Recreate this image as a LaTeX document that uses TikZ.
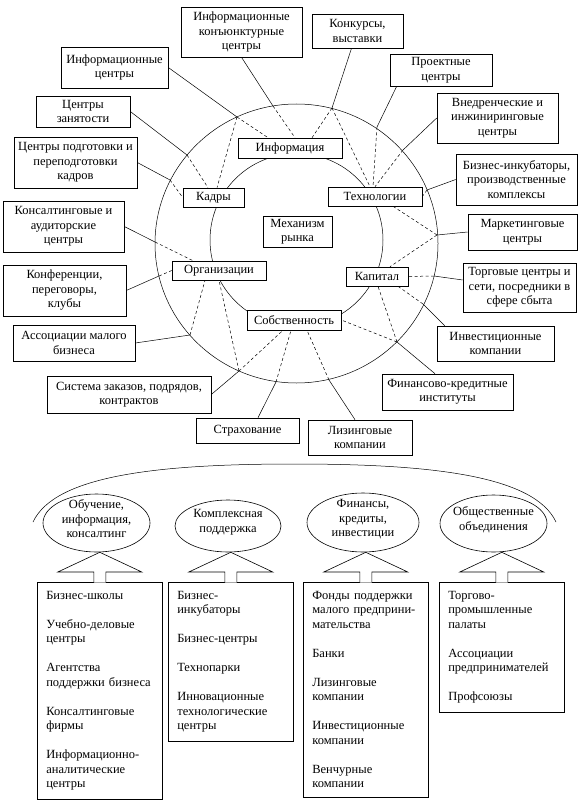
\documentclass[tikz,border=0pt]{standalone}
\usepackage{fontspec}
\setmainfont{Liberation Serif}
\usetikzlibrary{shapes.geometric}
\usetikzlibrary{calc}
\tikzset{box/.style={draw, fill=white, align=center, inner sep=0pt, line width=0.6pt}}
\tikzset{listbox/.style={draw, fill=white, align=left, anchor=north west, inner xsep=9pt, inner ysep=9pt, text width=107pt, line width=0.6pt}}
\tikzset{oval/.style={draw, ellipse, inner sep=0pt, line width=0.6pt}}
\tikzset{dashlink/.style={dash pattern=on 3pt off 2.5pt}}

\begin{document}
\begin{tikzpicture}[x=1pt, y=-1pt, line width=0.5pt, every node/.style={font=\fontsize{12.5}{14.5}\selectfont}]
            \useasboundingbox (0,0) rectangle (584,805);
            \draw (296.5,243.5) ellipse [x radius=141.5, y radius=139.5];
            \draw (296.5,240) circle [radius=86.5];
            \node [box, minimum width=104pt, minimum height=20pt] (info) at (290,148) {Информация};
            \node [box, minimum width=61pt, minimum height=19pt] (kadry) at (213.5,197.5) {Кадры};
            \node [box, minimum width=94pt, minimum height=19pt] (tech) at (375,196.5) {Технологии};
            \node [box, minimum width=69pt, minimum height=31pt] (mech) at (297.5,231.5) {Механизм\\рынка};
            \node [box, minimum width=94pt, minimum height=19pt] (org) at (219,270.5) {Организации};
            \node [box, minimum width=62pt, minimum height=19pt] (kap) at (377,276.5) {Капитал};
            \node [box, minimum width=94pt, minimum height=20pt] (sobst) at (294,320) {Собственность};
            \node [box, minimum width=107pt, minimum height=41pt] (infcent) at (114.5,67.5) {Информационные\\центры};
            \node [box, minimum width=121pt, minimum height=50pt] (infkon) at (241.5,32) {Информационные\\конъюнктурные\\центры};
            \node [box, minimum width=91pt, minimum height=34pt] (konk) at (357.5,31) {Конкурсы,\\выставки};
            \node [box, minimum width=102pt, minimum height=32pt] (proj) at (441,70) {Проектные\\центры};
            \node [box, minimum width=121pt, minimum height=50pt] (vnedr) at (497.5,118) {Внедренческие и\\инжиниринговые\\центры};
            \node [box, minimum width=121pt, minimum height=51pt] (binc) at (516.5,179.5) {Бизнес-инкубаторы,\\производственные\\комплексы};
            \node [box, minimum width=109pt, minimum height=36pt] (markc) at (522.5,232) {Маркетинговые\\центры};
            \node [box, minimum width=113pt, minimum height=49pt] (torg) at (519.5,287.5) {Торговые центры и\\сети, посредники в\\сфере сбыта};
            \node [box, minimum width=117pt, minimum height=35pt] (invest) at (495.5,343.5) {Инвестиционные\\компании};
            \node [box, minimum width=131pt, minimum height=36pt] (fin) at (447.5,392) {Финансово-кредитные\\институты};
            \node [box, minimum width=104pt, minimum height=35pt] (lizing) at (360,437.5) {Лизинговые\\компании};
            \node [box, minimum width=103pt, minimum height=25pt] (strah) at (247.5,430.5) {Страхование};
            \node [box, minimum width=164pt, minimum height=37pt] (sist) at (129,394.5) {Система заказов, подрядов,\\контрактов};
            \node [box, minimum width=122pt, minimum height=36pt] (assoc) at (74,343) {Ассоциации малого\\бизнеса};
            \node [box, minimum width=123pt, minimum height=51pt] (konf) at (64.5,290.5) {Конференции,\\переговоры,\\клубы};
            \node [box, minimum width=121pt, minimum height=51pt] (konsalt) at (63.5,226.5) {Консалтинговые и\\аудиторские\\центры};
            \node [box, minimum width=123pt, minimum height=51pt] (cpodg) at (75.5,162.5) {Центры подготовки и\\переподготовки\\кадров};
            \node [box, minimum width=94pt, minimum height=31pt] (czan) at (83,111.5) {Центры\\занятости};
            \coordinate (p1) at (237,117);
            \coordinate (p2) at (273,106);
            \coordinate (p3) at (332,108);
            \coordinate (p4) at (377,127);
            \coordinate (p5) at (403,150);
            \coordinate (p6) at (427,190);
            \coordinate (p7) at (437,235);
            \coordinate (p8) at (434,276);
            \coordinate (p9) at (423,304);
            \coordinate (p10) at (397,342);
            \coordinate (p11) at (329,380);
            \coordinate (p12) at (276,382);
            \coordinate (p13) at (239,371);
            \coordinate (p14) at (190,335);
            \coordinate (p15) at (159,276);
            \coordinate (p16) at (155,242);
            \coordinate (p17) at (170,180);
            \coordinate (p18) at (187,155);
            \draw (infcent.east) -- (p1);
            \draw [dashlink] (p1) -- ([xshift=-22pt]info.north);
            \draw [dashlink] (p1) -- ([xshift=3.5pt]kadry.north);
            \draw (infkon.south) -- (p2);
            \draw [dashlink] (p2) -- ([xshift=5pt]info.north);
            \draw ([xshift=-6pt]konk.south) -- (p3);
            \draw [dashlink] (p3) -- ([xshift=22pt]info.north);
            \draw [dashlink] (p3) -- ([xshift=-5pt]tech.north);
            \draw ([xshift=7pt]proj.south west) -- (p4);
            \draw [dashlink] (p4) -- ([xshift=-2pt]tech.north);
            \draw (vnedr.west) -- (p5);
            \draw [dashlink] (p5) -- (tech.north);
            \draw (binc.west) -- (p6);
            \draw [dashlink] (p6) -- (tech.east);
            \draw (markc.west) -- (p7);
            \draw [dashlink] (p7) -- ([xshift=18pt]tech.south);
            \draw [dashlink] (p7) -- ([xshift=13pt]kap.north);
            \draw ([yshift=7.5pt]torg.west) -- (p8);
            \draw [dashlink] (p8) -- (kap.east);
            \draw ([xshift=8pt]invest.north west) -- (p9);
            \draw [dashlink] (p9) -- ([xshift=21pt]kap.south);
            \draw ([xshift=-12.5pt]fin.north) -- (p10);
            \draw [dashlink] (p10) -- ([xshift=1pt]kap.south);
            \draw [dashlink] (p10) -- (sobst.east);
            \draw ([xshift=-5pt]lizing.north) -- (p11);
            \draw [dashlink] (p11) -- ([xshift=13pt]sobst.south);
            \draw ([xshift=10.5pt]strah.north) -- (p12);
            \draw [dashlink] (p12) -- ([xshift=-3pt]sobst.south);
            \draw (sist.east) -- (p13);
            \draw [dashlink] (p13) -- ([xshift=-11pt]sobst.south);
            \draw [dashlink] (p13) -- (org.south);
            \draw (assoc.east) -- (p14);
            \draw [dashlink] (p14) -- ([xshift=-14pt]org.south);
            \draw (konf.east) -- (p15);
            \draw [dashlink] (p15) -- (org.west);
            \draw (konsalt.east) -- (p16);
            \draw [dashlink] (p16) -- ([xshift=-26pt]org.north);
            \draw (cpodg.east) -- (p17);
            \draw [dashlink] (p17) -- (kadry.west);
            \draw (czan.east) -- (p18);
            \draw [dashlink] (p18) -- ([xshift=-5.5pt]kadry.north);
            \draw (33,522) .. controls (55,475) and (160,464) .. (294.5,464) .. controls (429,464) and (534,475) .. (556,522);
            \node [oval, minimum width=107pt, minimum height=58pt] (e1) at (96.5,523) {};
            \node [oval, minimum width=106pt, minimum height=52pt] (e2) at (228,526) {};
            \node [oval, minimum width=112pt, minimum height=59pt] (e3) at (363,522.5) {};
            \node [oval, minimum width=107pt, minimum height=57pt] (e4) at (493.5,523.5) {};
            \node [align=center] (t1) at ([yshift=4pt]e1.center) {Обучение,\\информация,\\консалтинг};
            \node [align=center] (t2) at ([yshift=4pt]e2.center) {Комплексная\\поддержка};
            \node [align=center] (t3) at ([yshift=3pt]e3.center) {Финансы,\\кредиты,\\инвестиции};
            \node [align=center] (t4) at ([yshift=4pt]e4.center) {Общественные\\объединения};
            \node [listbox] (b1) at (37,582) {Бизнес-школы\\[14.5pt]Учебно-деловые\\центры\\[14.5pt]Агентства\\поддержки бизнеса\\[14.5pt]Консалтинговые\\фирмы\\[14.5pt]Информационно-\\аналитические\\центры};
            \node [listbox] (b2) at (168,582) {Бизнес-\\инкубаторы\\[14.5pt]Бизнес-центры\\[14.5pt]Технопарки\\[14.5pt]Инновационные\\технологические\\центры};
            \node [listbox] (b3) at (303,582) {Фонды поддержки\\малого предприни-\\мательства\\[14.5pt]Банки\\[14.5pt]Лизинговые\\компании\\[14.5pt]Инвестиционные\\компании\\[14.5pt]Венчурные\\компании};
            \node [listbox] (b4) at (439,582) {Торгово-\\промышленные\\палаты\\[14.5pt]Ассоциации\\предпринимателей\\[14.5pt]Профсоюзы};
            \foreach \b/\e in {b1/e1, b2/e2, b3/e3, b4/e4}
                \filldraw [fill=white, line width=0.6pt] ($(\b.north)+(-6,0.5)$) -- ++(0,-10.5) -- ++(-36,0) -- (\b.north |- \e.south) -- ($(\b.north)+(42,-10)$) -- ++(-36,0) -- ++(0,10.5);
        \end{tikzpicture}
\end{document}
